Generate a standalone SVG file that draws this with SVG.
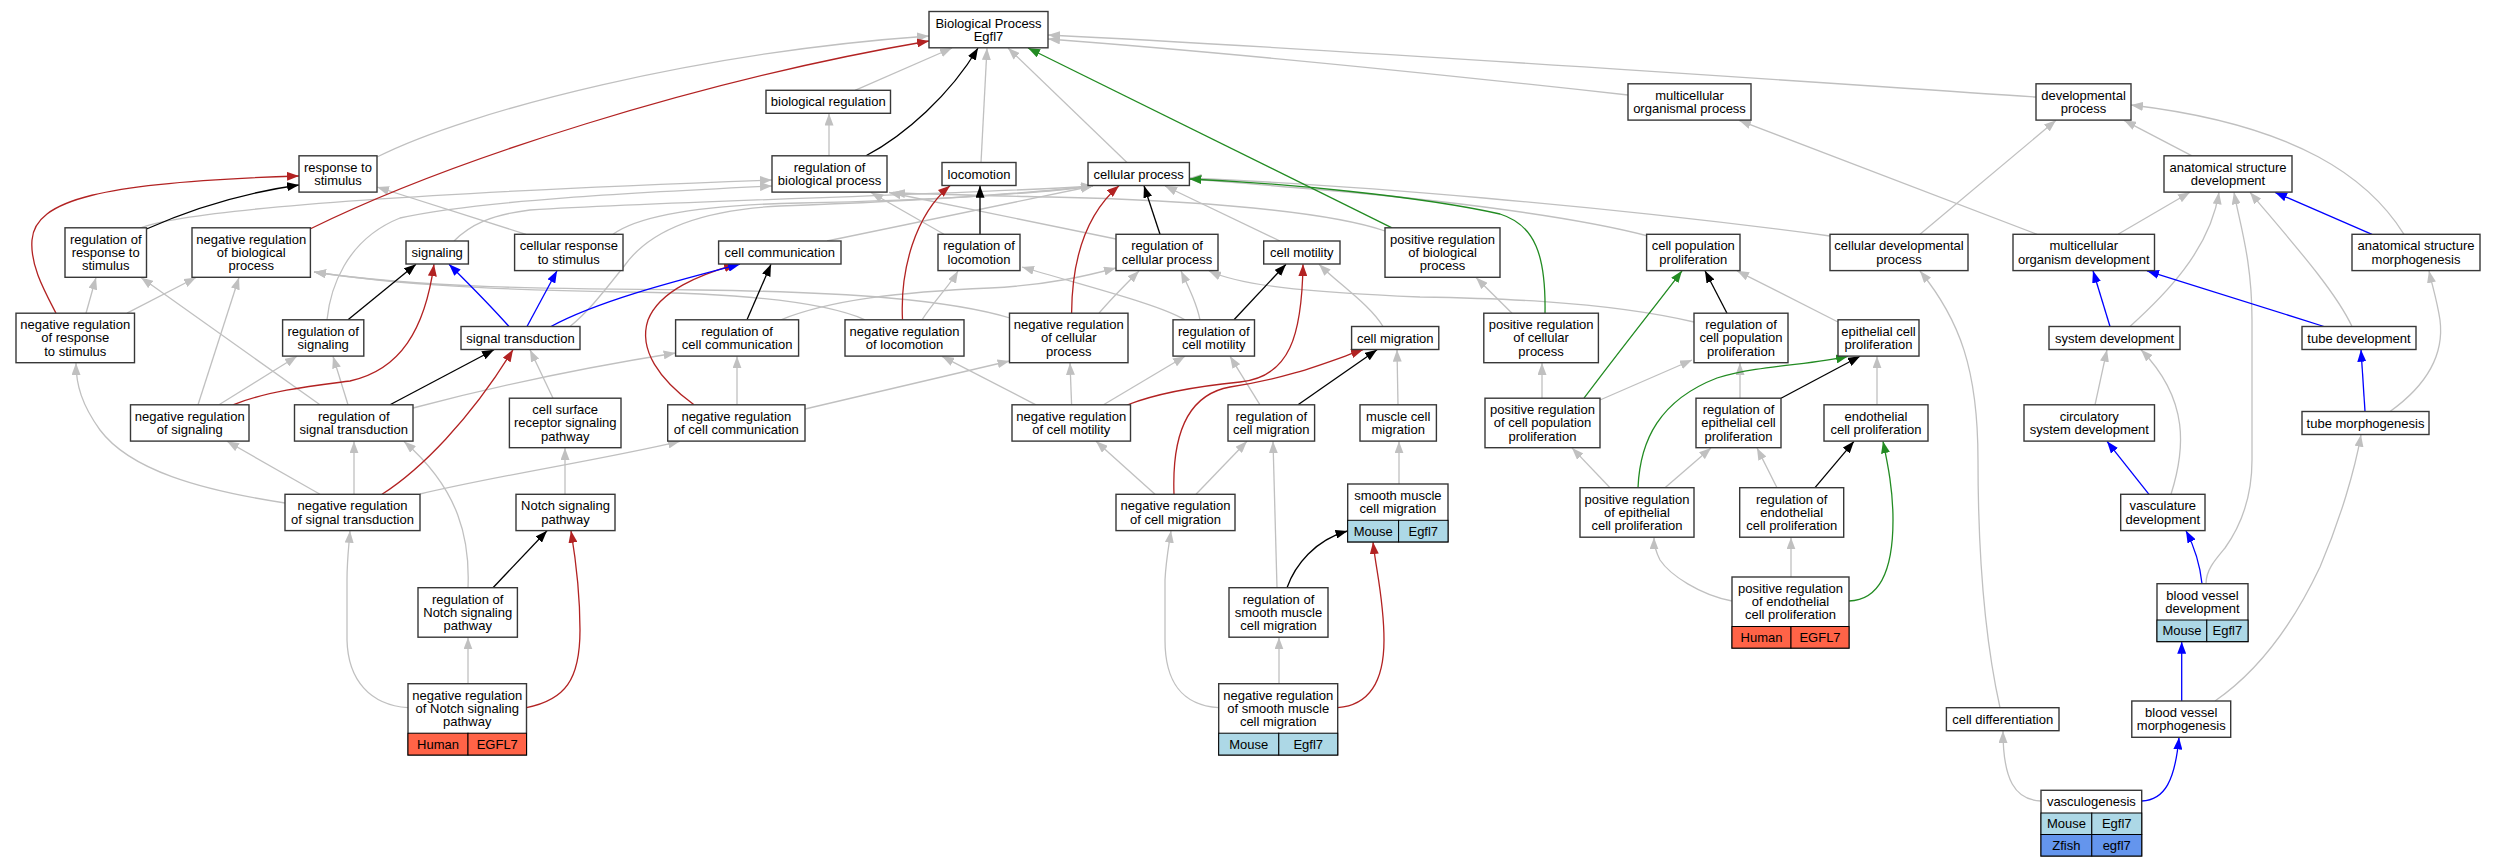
<svg xmlns="http://www.w3.org/2000/svg" width="2496" height="867" viewBox="0 0 2496 867">
<style>
text{font-family:"Liberation Sans",Arial,sans-serif;font-size:13px;text-anchor:middle;fill:#000}
.n rect.b{fill:#fff;stroke:#383838;stroke-width:1.4}
.c{stroke:#000;stroke-width:1}
.hu{fill:#ff6347}
.mo{fill:#add8e6}
.zf{fill:#6495ed}
#edges path{fill:none;stroke-width:1.3}
.g{stroke:#c0c0c0;marker-end:url(#ag)}
.k{stroke:#000;marker-end:url(#ak)}
.r{stroke:#b22222;marker-end:url(#ar)}
.gr{stroke:#228b22;marker-end:url(#agr)}
.bl{stroke:#0000ff;marker-end:url(#ab)}
</style>
<defs>
<marker id="ag" viewBox="0 0 12 9" refX="12" refY="4.5" markerWidth="12" markerHeight="9" markerUnits="userSpaceOnUse" orient="auto"><path d="M0,0 L12,4.5 L0,9 z" fill="#c0c0c0"/></marker>
<marker id="ak" viewBox="0 0 12 9" refX="12" refY="4.5" markerWidth="12" markerHeight="9" markerUnits="userSpaceOnUse" orient="auto"><path d="M0,0 L12,4.5 L0,9 z" fill="#000"/></marker>
<marker id="ar" viewBox="0 0 12 9" refX="12" refY="4.5" markerWidth="12" markerHeight="9" markerUnits="userSpaceOnUse" orient="auto"><path d="M0,0 L12,4.5 L0,9 z" fill="#b22222"/></marker>
<marker id="agr" viewBox="0 0 12 9" refX="12" refY="4.5" markerWidth="12" markerHeight="9" markerUnits="userSpaceOnUse" orient="auto"><path d="M0,0 L12,4.5 L0,9 z" fill="#228b22"/></marker>
<marker id="ab" viewBox="0 0 12 9" refX="12" refY="4.5" markerWidth="12" markerHeight="9" markerUnits="userSpaceOnUse" orient="auto"><path d="M0,0 L12,4.5 L0,9 z" fill="#0000ff"/></marker>
</defs>
<rect width="2496" height="867" fill="#fff"/>
<g id="edges">
<path class="g" d="M377,157 C470,110 700,52 929,36"/>
<path class="g" d="M855,90.3 L952,48"/>
<path class="g" d="M981,162.5 L987,48"/>
<path class="g" d="M1127,162.5 L1008,48"/>
<path class="g" d="M1628,95 C1420,72 1220,52 1048,39"/>
<path class="g" d="M2036,97 C1750,78 1350,50 1048,35"/>
<path class="g" d="M829,155.8 L829,113.5"/>
<path class="g" d="M526,234.3 L377,187"/>
<path class="g" d="M140,228 C200,205 500,190 772,180"/>
<path class="g" d="M327,319.8 C330,290 345,240 400,218 C480,200 650,192 772,186"/>
<path class="g" d="M454,241 C470,225 490,215 530,210 C700,200 950,195 1093,186"/>
<path class="g" d="M613,234.3 C640,215 700,205 800,203 C950,200 1050,192 1093,186"/>
<path class="g" d="M570,326.5 C590,310 605,290 625,265 C650,230 700,210 780,206 C950,200 1060,190 1093,186"/>
<path class="g" d="M827,241 L1093,186"/>
<path class="g" d="M944,234.3 L871,192.5"/>
<path class="g" d="M1116,239 L889,192.5"/>
<path class="g" d="M1385,231 C1330,212 1200,200 1050,197 C960,195 910,194 893,192.5"/>
<path class="g" d="M1280,241 L1165,186"/>
<path class="g" d="M1830,236 C1600,205 1350,185 1189.4,178"/>
<path class="g" d="M1648,236 C1580,218 1450,200 1300,188 C1250,184 1210,180 1189.4,179"/>
<path class="g" d="M1512,313.2 L1476,277.5"/>
<path class="g" d="M86,313.2 L96,277.5"/>
<path class="g" d="M127,313.2 L196,277.5"/>
<path class="g" d="M198,404.8 L239,277.5"/>
<path class="g" d="M219,404.8 L297,356.3"/>
<path class="g" d="M348,404.8 L333,356.3"/>
<path class="g" d="M320,404.8 L141,277.5"/>
<path class="g" d="M413,408 C500,385 600,365 675.6,353"/>
<path class="g" d="M354,494.3 L354,441.3"/>
<path class="g" d="M320,494.3 L227,441.3"/>
<path class="g" d="M285,503 C200,490 130,470 100,430 C82,405 76,385 76,363"/>
<path class="g" d="M420,494 C500,475 600,460 680,441.3"/>
<path class="g" d="M553,398.2 L530,349.7"/>
<path class="g" d="M565,494.3 L565,448"/>
<path class="g" d="M468,587.7 C470,540 460,490 404,441.5"/>
<path class="g" d="M468,683.7 L468,637.4"/>
<path class="g" d="M408,707.7 C370,705 348,680 347,640 L347,580 C347,560 349,545 350,530.8"/>
<path class="g" d="M737,404.8 L737,356.3"/>
<path class="g" d="M805,409 L1009.5,361"/>
<path class="g" d="M781,319.8 C830,300 900,292 990,288 C1050,285 1090,275 1116,268"/>
<path class="g" d="M922,319.8 C935,300 950,285 958,271"/>
<path class="g" d="M865,319.8 C820,300 720,293 624,292 C500,290 400,285 314,272"/>
<path class="g" d="M1010,318 C950,300 850,292 700,290 C550,289 420,288 314,272"/>
<path class="g" d="M1099,313.2 C1110,300 1125,285 1139,271"/>
<path class="g" d="M1036,404.8 L942,356.3"/>
<path class="g" d="M1071.6,404.8 L1070,362.9"/>
<path class="g" d="M1103.5,404.8 L1185,356.3"/>
<path class="g" d="M1185,319.8 C1160,305 1100,290 1022,267"/>
<path class="g" d="M1200,319.8 C1197,305 1190,290 1181,271"/>
<path class="g" d="M1694,322 C1600,300 1480,298 1420,297 C1300,292 1240,285 1209,271"/>
<path class="g" d="M1196,494.3 L1247,441.3"/>
<path class="g" d="M1155,494.3 L1096,441.3"/>
<path class="g" d="M1260,404.8 L1230,356.3"/>
<path class="g" d="M1383,326.5 C1370,305 1340,285 1319,264.2"/>
<path class="g" d="M1398,404.8 L1397,349.7"/>
<path class="g" d="M1399,484 L1399,441.3"/>
<path class="g" d="M1277,587.7 L1273,441.3"/>
<path class="g" d="M1279,683.7 L1279,637.4"/>
<path class="g" d="M1218.7,707.7 C1180,705 1165,680 1165,640 L1165,580 C1166,560 1169,545 1171,530.8"/>
<path class="g" d="M1542,398.2 L1542,362.9"/>
<path class="g" d="M1600,400 L1692,360"/>
<path class="g" d="M1740,398.2 L1740,362.9"/>
<path class="g" d="M1838,322 L1737,270.8"/>
<path class="g" d="M1610,487.7 L1572,447.9"/>
<path class="g" d="M1665,487.7 L1711,447.9"/>
<path class="g" d="M1777,487.7 L1757,447.9"/>
<path class="g" d="M1877,404.8 L1877,356.3"/>
<path class="g" d="M1791,577 L1791,537.4"/>
<path class="g" d="M1732,601 C1700,595 1670,575 1660,560 C1655,550 1654,545 1654,537.4"/>
<path class="g" d="M2000,707.7 C1985,640 1978,560 1978,460 C1978,370 1960,320 1920,271"/>
<path class="g" d="M1920,234.3 L2056,120.3"/>
<path class="g" d="M2037,234.3 L1739,120.3"/>
<path class="g" d="M2118,234.3 L2190,192.3"/>
<path class="g" d="M2192,155.8 L2124,120.3"/>
<path class="g" d="M2404,234.3 C2370,180 2300,125 2131,105"/>
<path class="g" d="M2130,326.5 C2165,295 2210,250 2219,192.3"/>
<path class="g" d="M2352,326.5 C2335,290 2290,240 2250,192.3"/>
<path class="g" d="M2206,583.7 C2206,570 2215,560 2225,548 C2245,520 2252,490 2252,460 L2252,320 C2252,260 2240,225 2234,192.3"/>
<path class="g" d="M2390,411.5 C2420,390 2445,360 2440,320 C2437,300 2432,285 2429,270.8"/>
<path class="g" d="M2095,404.8 L2107,349.7"/>
<path class="g" d="M2171,494.3 C2185,450 2190,400 2141,349.7"/>
<path class="g" d="M2215,701 C2260,670 2295,620 2320,567 C2340,520 2355,470 2361,434.7"/>
<path class="g" d="M2041,801 C2015,800 2003,780 2003,730.9"/>
<path class="k" d="M866,155.8 C905,135 950,95 978,48"/>
<path class="k" d="M146.5,229 C200,205 250,192 299,185"/>
<path class="k" d="M980,234.3 L980,185.7"/>
<path class="k" d="M1160,234.3 L1144,185.7"/>
<path class="k" d="M348,319.8 L416,264.2"/>
<path class="k" d="M390,404.8 L494,349.7"/>
<path class="k" d="M747,319.8 L771,264.2"/>
<path class="k" d="M493,587.7 L547,530.8"/>
<path class="k" d="M1234,319.8 L1286,264.2"/>
<path class="k" d="M1298,404.8 L1377,349.7"/>
<path class="k" d="M1287,587.7 C1295,565 1315,540 1347.5,531"/>
<path class="k" d="M1727,313.2 L1705,270.8"/>
<path class="k" d="M1781,398.2 L1860,356.3"/>
<path class="k" d="M1815,487.7 L1854,441.3"/>
<path class="r" d="M310,229 C450,160 700,80 929,41"/>
<path class="r" d="M56,313.2 C44,290 30,265 32,240 C35,200 100,182 299,176"/>
<path class="r" d="M233,404.8 C270,390 320,385 350,381 C400,370 425,330 434,264.2"/>
<path class="r" d="M382,494.3 C420,470 470,420 513,349.7"/>
<path class="r" d="M694,404.8 C660,380 638,350 648,320 C660,290 700,275 736,264.2"/>
<path class="r" d="M902.5,319.8 C900,270 915,215 950,185.7"/>
<path class="r" d="M1071.6,313.2 C1072,260 1085,215 1119,185.7"/>
<path class="r" d="M1127,405 C1160,392 1200,386 1240,382 C1290,377 1302,335 1303,264.2"/>
<path class="r" d="M1174,494.3 C1172,440 1185,395 1230,387 C1290,378 1325,363 1363,349.7"/>
<path class="r" d="M526.5,707.7 C565,700 580,680 580,630 C580,590 575,555 571,530.8"/>
<path class="r" d="M1337.7,707.7 C1370,705 1384,680 1384,640 C1384,600 1376,570 1373,542.1"/>
<path class="gr" d="M1392,227.8 L1028,48"/>
<path class="gr" d="M1545,313.2 C1546,255 1535,225 1500,214 C1420,196 1280,183 1189.4,179"/>
<path class="gr" d="M1584,398.2 C1620,350 1660,300 1682,270.8"/>
<path class="gr" d="M1638,487.7 C1640,440 1660,400 1717,378 C1760,365 1810,365 1848,356.3"/>
<path class="gr" d="M1849,601 C1880,600 1893,570 1893,520 C1893,490 1888,465 1883,441.3"/>
<path class="bl" d="M509,326.5 C490,305 470,285 449,264.2"/>
<path class="bl" d="M527,326.5 L557,270.8"/>
<path class="bl" d="M551,326.5 C600,300 680,280 740,264.2"/>
<path class="bl" d="M2372,234.3 L2275,192.3"/>
<path class="bl" d="M2110,326.5 L2093,270.8"/>
<path class="bl" d="M2324,326.5 L2147,270.8"/>
<path class="bl" d="M2365,411.5 L2361,349.7"/>
<path class="bl" d="M2149,494.3 L2107,441.3"/>
<path class="bl" d="M2202,583.7 C2200,565 2195,548 2186,530.8"/>
<path class="bl" d="M2181.7,701 L2181.7,641.8"/>
<path class="bl" d="M2141.7,801 C2165,800 2175,780 2179,737.5"/>
</g>
<g id="BP" class="n"><rect class="b" x="929" y="11.5" width="119" height="36.3"/><text x="988.5" y="27.55">Biological Process<tspan x="988.5" dy="13.2">Egfl7</tspan></text></g>
<g id="bioreg" class="n"><rect class="b" x="766" y="90.3" width="124.5" height="23"/><text x="828.25" y="106.3">biological regulation</text></g>
<g id="multorg" class="n"><rect class="b" x="1628" y="83.8" width="123" height="36.3"/><text x="1689.5" y="99.85">multicellular<tspan x="1689.5" dy="13.2">organismal process</tspan></text></g>
<g id="devproc" class="n"><rect class="b" x="2036" y="83.8" width="95" height="36.3"/><text x="2083.5" y="99.85">developmental<tspan x="2083.5" dy="13.2">process</tspan></text></g>
<g id="regbp" class="n"><rect class="b" x="772" y="155.8" width="115" height="36.3"/><text x="829.5" y="171.85">regulation of<tspan x="829.5" dy="13.2">biological process</tspan></text></g>
<g id="loco" class="n"><rect class="b" x="942" y="162.5" width="74" height="23"/><text x="979" y="178.5">locomotion</text></g>
<g id="cellproc" class="n"><rect class="b" x="1088" y="162.5" width="101.4" height="23"/><text x="1138.7" y="178.5">cellular process</text></g>
<g id="resp" class="n"><rect class="b" x="299" y="155.8" width="78" height="36.3"/><text x="338" y="171.85">response to<tspan x="338" dy="13.2">stimulus</tspan></text></g>
<g id="anat" class="n"><rect class="b" x="2164" y="155.8" width="128" height="36.3"/><text x="2228" y="171.85">anatomical structure<tspan x="2228" dy="13.2">development</tspan></text></g>
<g id="regresp" class="n"><rect class="b" x="65" y="227.8" width="81.5" height="49.5"/><text x="105.75" y="243.85">regulation of<tspan x="105.75" dy="13.2">response to</tspan><tspan x="105.75" dy="13.2">stimulus</tspan></text></g>
<g id="negbp" class="n"><rect class="b" x="192" y="227.8" width="118.4" height="49.5"/><text x="251.2" y="243.85">negative regulation<tspan x="251.2" dy="13.2">of biological</tspan><tspan x="251.2" dy="13.2">process</tspan></text></g>
<g id="signaling" class="n"><rect class="b" x="406" y="241" width="62.4" height="23"/><text x="437.2" y="257">signaling</text></g>
<g id="cellresp" class="n"><rect class="b" x="514.6" y="234.3" width="108.4" height="36.3"/><text x="568.8" y="250.35">cellular response<tspan x="568.8" dy="13.2">to stimulus</tspan></text></g>
<g id="cellcomm" class="n"><rect class="b" x="718.6" y="241" width="122.4" height="23"/><text x="779.8" y="257">cell communication</text></g>
<g id="regloco" class="n"><rect class="b" x="938" y="234.3" width="82" height="36.3"/><text x="979" y="250.35">regulation of<tspan x="979" dy="13.2">locomotion</tspan></text></g>
<g id="regcp" class="n"><rect class="b" x="1116" y="234.3" width="102" height="36.3"/><text x="1167" y="250.35">regulation of<tspan x="1167" dy="13.2">cellular process</tspan></text></g>
<g id="motility" class="n"><rect class="b" x="1263.7" y="241" width="76.3" height="23"/><text x="1301.85" y="257">cell motility</text></g>
<g id="posbp" class="n"><rect class="b" x="1385" y="227.8" width="115" height="49.5"/><text x="1442.5" y="243.85">positive regulation<tspan x="1442.5" dy="13.2">of biological</tspan><tspan x="1442.5" dy="13.2">process</tspan></text></g>
<g id="cellpop" class="n"><rect class="b" x="1646.6" y="234.3" width="93.4" height="36.3"/><text x="1693.3" y="250.35">cell population<tspan x="1693.3" dy="13.2">proliferation</tspan></text></g>
<g id="celldev" class="n"><rect class="b" x="1830" y="234.3" width="138" height="36.3"/><text x="1899" y="250.35">cellular developmental<tspan x="1899" dy="13.2">process</tspan></text></g>
<g id="multdev" class="n"><rect class="b" x="2013" y="234.3" width="141.5" height="36.3"/><text x="2083.75" y="250.35">multicellular<tspan x="2083.75" dy="13.2">organism development</tspan></text></g>
<g id="anatmorph" class="n"><rect class="b" x="2352" y="234.3" width="128" height="36.3"/><text x="2416" y="250.35">anatomical structure<tspan x="2416" dy="13.2">morphogenesis</tspan></text></g>
<g id="negresp" class="n"><rect class="b" x="16" y="313.2" width="118.5" height="49.5"/><text x="75.25" y="329.25">negative regulation<tspan x="75.25" dy="13.2">of response</tspan><tspan x="75.25" dy="13.2">to stimulus</tspan></text></g>
<g id="regsig" class="n"><rect class="b" x="282.6" y="319.8" width="81.2" height="36.3"/><text x="323.2" y="335.85">regulation of<tspan x="323.2" dy="13.2">signaling</tspan></text></g>
<g id="sigtrans" class="n"><rect class="b" x="461" y="326.5" width="119" height="23"/><text x="520.5" y="342.5">signal transduction</text></g>
<g id="regcc" class="n"><rect class="b" x="675.6" y="319.8" width="123" height="36.3"/><text x="737.1" y="335.85">regulation of<tspan x="737.1" dy="13.2">cell communication</tspan></text></g>
<g id="negloco" class="n"><rect class="b" x="845" y="319.8" width="119" height="36.3"/><text x="904.5" y="335.85">negative regulation<tspan x="904.5" dy="13.2">of locomotion</tspan></text></g>
<g id="negcp" class="n"><rect class="b" x="1009.5" y="313.2" width="118.5" height="49.5"/><text x="1068.75" y="329.25">negative regulation<tspan x="1068.75" dy="13.2">of cellular</tspan><tspan x="1068.75" dy="13.2">process</tspan></text></g>
<g id="regmot" class="n"><rect class="b" x="1173" y="319.8" width="81.5" height="36.3"/><text x="1213.75" y="335.85">regulation of<tspan x="1213.75" dy="13.2">cell motility</tspan></text></g>
<g id="cellmig" class="n"><rect class="b" x="1351.6" y="326.5" width="87.2" height="23"/><text x="1395.2" y="342.5">cell migration</text></g>
<g id="poscp" class="n"><rect class="b" x="1483.8" y="313.2" width="114.6" height="49.5"/><text x="1541.1" y="329.25">positive regulation<tspan x="1541.1" dy="13.2">of cellular</tspan><tspan x="1541.1" dy="13.2">process</tspan></text></g>
<g id="regpop" class="n"><rect class="b" x="1694" y="313.2" width="94" height="49.5"/><text x="1741" y="329.25">regulation of<tspan x="1741" dy="13.2">cell population</tspan><tspan x="1741" dy="13.2">proliferation</tspan></text></g>
<g id="epi" class="n"><rect class="b" x="1838" y="319.8" width="81" height="36.3"/><text x="1878.5" y="335.85">epithelial cell<tspan x="1878.5" dy="13.2">proliferation</tspan></text></g>
<g id="sysdev" class="n"><rect class="b" x="2049" y="326.5" width="131" height="23"/><text x="2114.5" y="342.5">system development</text></g>
<g id="tubedev" class="n"><rect class="b" x="2302" y="326.5" width="114" height="23"/><text x="2359" y="342.5">tube development</text></g>
<g id="negsig" class="n"><rect class="b" x="130.5" y="404.8" width="118.5" height="36.3"/><text x="189.75" y="420.85">negative regulation<tspan x="189.75" dy="13.2">of signaling</tspan></text></g>
<g id="regst" class="n"><rect class="b" x="294.5" y="404.8" width="118.5" height="36.3"/><text x="353.75" y="420.85">regulation of<tspan x="353.75" dy="13.2">signal transduction</tspan></text></g>
<g id="csrsp" class="n"><rect class="b" x="509.4" y="398.2" width="111.6" height="49.5"/><text x="565.2" y="414.25">cell surface<tspan x="565.2" dy="13.2">receptor signaling</tspan><tspan x="565.2" dy="13.2">pathway</tspan></text></g>
<g id="negcc" class="n"><rect class="b" x="667.7" y="404.8" width="137.3" height="36.3"/><text x="736.35" y="420.85">negative regulation<tspan x="736.35" dy="13.2">of cell communication</tspan></text></g>
<g id="negmot" class="n"><rect class="b" x="1012" y="404.8" width="118.5" height="36.3"/><text x="1071.25" y="420.85">negative regulation<tspan x="1071.25" dy="13.2">of cell motility</tspan></text></g>
<g id="regmig" class="n"><rect class="b" x="1228" y="404.8" width="86.6" height="36.3"/><text x="1271.3" y="420.85">regulation of<tspan x="1271.3" dy="13.2">cell migration</tspan></text></g>
<g id="musmig" class="n"><rect class="b" x="1360" y="404.8" width="76.4" height="36.3"/><text x="1398.2" y="420.85">muscle cell<tspan x="1398.2" dy="13.2">migration</tspan></text></g>
<g id="pospop" class="n"><rect class="b" x="1485" y="398.2" width="115" height="49.5"/><text x="1542.5" y="414.25">positive regulation<tspan x="1542.5" dy="13.2">of cell population</tspan><tspan x="1542.5" dy="13.2">proliferation</tspan></text></g>
<g id="regepi" class="n"><rect class="b" x="1696" y="398.2" width="85" height="49.5"/><text x="1738.5" y="414.25">regulation of<tspan x="1738.5" dy="13.2">epithelial cell</tspan><tspan x="1738.5" dy="13.2">proliferation</tspan></text></g>
<g id="endo" class="n"><rect class="b" x="1824" y="404.8" width="104" height="36.3"/><text x="1876" y="420.85">endothelial<tspan x="1876" dy="13.2">cell proliferation</tspan></text></g>
<g id="circ" class="n"><rect class="b" x="2024" y="404.8" width="130.5" height="36.3"/><text x="2089.25" y="420.85">circulatory<tspan x="2089.25" dy="13.2">system development</tspan></text></g>
<g id="tubemorph" class="n"><rect class="b" x="2302" y="411.5" width="127" height="23"/><text x="2365.5" y="427.5">tube morphogenesis</text></g>
<g id="negst" class="n"><rect class="b" x="285" y="494.3" width="135" height="36.3"/><text x="352.5" y="510.35">negative regulation<tspan x="352.5" dy="13.2">of signal transduction</tspan></text></g>
<g id="notch" class="n"><rect class="b" x="516" y="494.3" width="99" height="36.3"/><text x="565.5" y="510.35">Notch signaling<tspan x="565.5" dy="13.2">pathway</tspan></text></g>
<g id="negmig" class="n"><rect class="b" x="1116" y="494.3" width="119" height="36.3"/><text x="1175.5" y="510.35">negative regulation<tspan x="1175.5" dy="13.2">of cell migration</tspan></text></g>
<g id="smcm" class="n"><rect class="b" x="1347.7" y="484" width="100.3" height="57.9"/><rect class="c mo" x="1347.7" y="520.3" width="50.9" height="21.6"/><rect class="c mo" x="1398.6" y="520.3" width="49.4" height="21.6"/><text x="1397.85" y="500.05">smooth muscle<tspan x="1397.85" dy="13.2">cell migration</tspan></text><text x="1373.15" y="535.6">Mouse</text><text x="1423.3" y="535.6">Egfl7</text></g>
<g id="posepi" class="n"><rect class="b" x="1580" y="487.7" width="114" height="49.5"/><text x="1637" y="503.75">positive regulation<tspan x="1637" dy="13.2">of epithelial</tspan><tspan x="1637" dy="13.2">cell proliferation</tspan></text></g>
<g id="regendo" class="n"><rect class="b" x="1739.7" y="487.7" width="104" height="49.5"/><text x="1791.7" y="503.75">regulation of<tspan x="1791.7" dy="13.2">endothelial</tspan><tspan x="1791.7" dy="13.2">cell proliferation</tspan></text></g>
<g id="vasc" class="n"><rect class="b" x="2120.7" y="494.3" width="84.3" height="36.3"/><text x="2162.85" y="510.35">vasculature<tspan x="2162.85" dy="13.2">development</tspan></text></g>
<g id="regnotch" class="n"><rect class="b" x="418" y="587.7" width="99.4" height="49.5"/><text x="467.7" y="603.75">regulation of<tspan x="467.7" dy="13.2">Notch signaling</tspan><tspan x="467.7" dy="13.2">pathway</tspan></text></g>
<g id="regsmcm" class="n"><rect class="b" x="1229" y="587.7" width="99" height="49.5"/><text x="1278.5" y="603.75">regulation of<tspan x="1278.5" dy="13.2">smooth muscle</tspan><tspan x="1278.5" dy="13.2">cell migration</tspan></text></g>
<g id="posendo" class="n"><rect class="b" x="1732" y="577" width="117" height="71.1"/><rect class="c hu" x="1732" y="626.5" width="59" height="21.6"/><rect class="c hu" x="1791" y="626.5" width="58" height="21.6"/><text x="1790.5" y="593.05">positive regulation<tspan x="1790.5" dy="13.2">of endothelial</tspan><tspan x="1790.5" dy="13.2">cell proliferation</tspan></text><text x="1761.5" y="641.8">Human</text><text x="1820" y="641.8">EGFL7</text></g>
<g id="bvdev" class="n"><rect class="b" x="2157" y="583.7" width="91" height="57.9"/><rect class="c mo" x="2157" y="620" width="49.8" height="21.6"/><rect class="c mo" x="2206.8" y="620" width="41.2" height="21.6"/><text x="2202.5" y="599.75">blood vessel<tspan x="2202.5" dy="13.2">development</tspan></text><text x="2181.9" y="635.3">Mouse</text><text x="2227.4" y="635.3">Egfl7</text></g>
<g id="negnotch" class="n"><rect class="b" x="408" y="683.7" width="118.5" height="71.3"/><rect class="c hu" x="408" y="733.2" width="60" height="21.8"/><rect class="c hu" x="468" y="733.2" width="58.5" height="21.8"/><text x="467.25" y="699.75">negative regulation<tspan x="467.25" dy="13.2">of Notch signaling</tspan><tspan x="467.25" dy="13.2">pathway</tspan></text><text x="438" y="748.6">Human</text><text x="497.25" y="748.6">EGFL7</text></g>
<g id="negsmcm" class="n"><rect class="b" x="1218.7" y="683.7" width="119" height="71.3"/><rect class="c mo" x="1218.7" y="733.2" width="60.1" height="21.8"/><rect class="c mo" x="1278.8" y="733.2" width="58.9" height="21.8"/><text x="1278.2" y="699.75">negative regulation<tspan x="1278.2" dy="13.2">of smooth muscle</tspan><tspan x="1278.2" dy="13.2">cell migration</tspan></text><text x="1248.75" y="748.6">Mouse</text><text x="1308.25" y="748.6">Egfl7</text></g>
<g id="celldiff" class="n"><rect class="b" x="1946.4" y="707.7" width="112.6" height="23"/><text x="2002.7" y="723.7">cell differentiation</text></g>
<g id="bvmorph" class="n"><rect class="b" x="2131.8" y="701" width="98.9" height="36.3"/><text x="2181.25" y="717.05">blood vessel<tspan x="2181.25" dy="13.2">morphogenesis</tspan></text></g>
<g id="vasculo" class="n"><rect class="b" x="2041" y="790.3" width="100.7" height="65.7"/><rect class="c mo" x="2041" y="813" width="50.8" height="21.5"/><rect class="c mo" x="2091.8" y="813" width="49.9" height="21.5"/><rect class="c zf" x="2041" y="834.5" width="50.8" height="21.5"/><rect class="c zf" x="2091.8" y="834.5" width="49.9" height="21.5"/><text x="2091.35" y="806.15">vasculogenesis</text><text x="2066.4" y="828.25">Mouse</text><text x="2116.75" y="828.25">Egfl7</text><text x="2066.4" y="849.75">Zfish</text><text x="2116.75" y="849.75">egfl7</text></g>
</svg>
